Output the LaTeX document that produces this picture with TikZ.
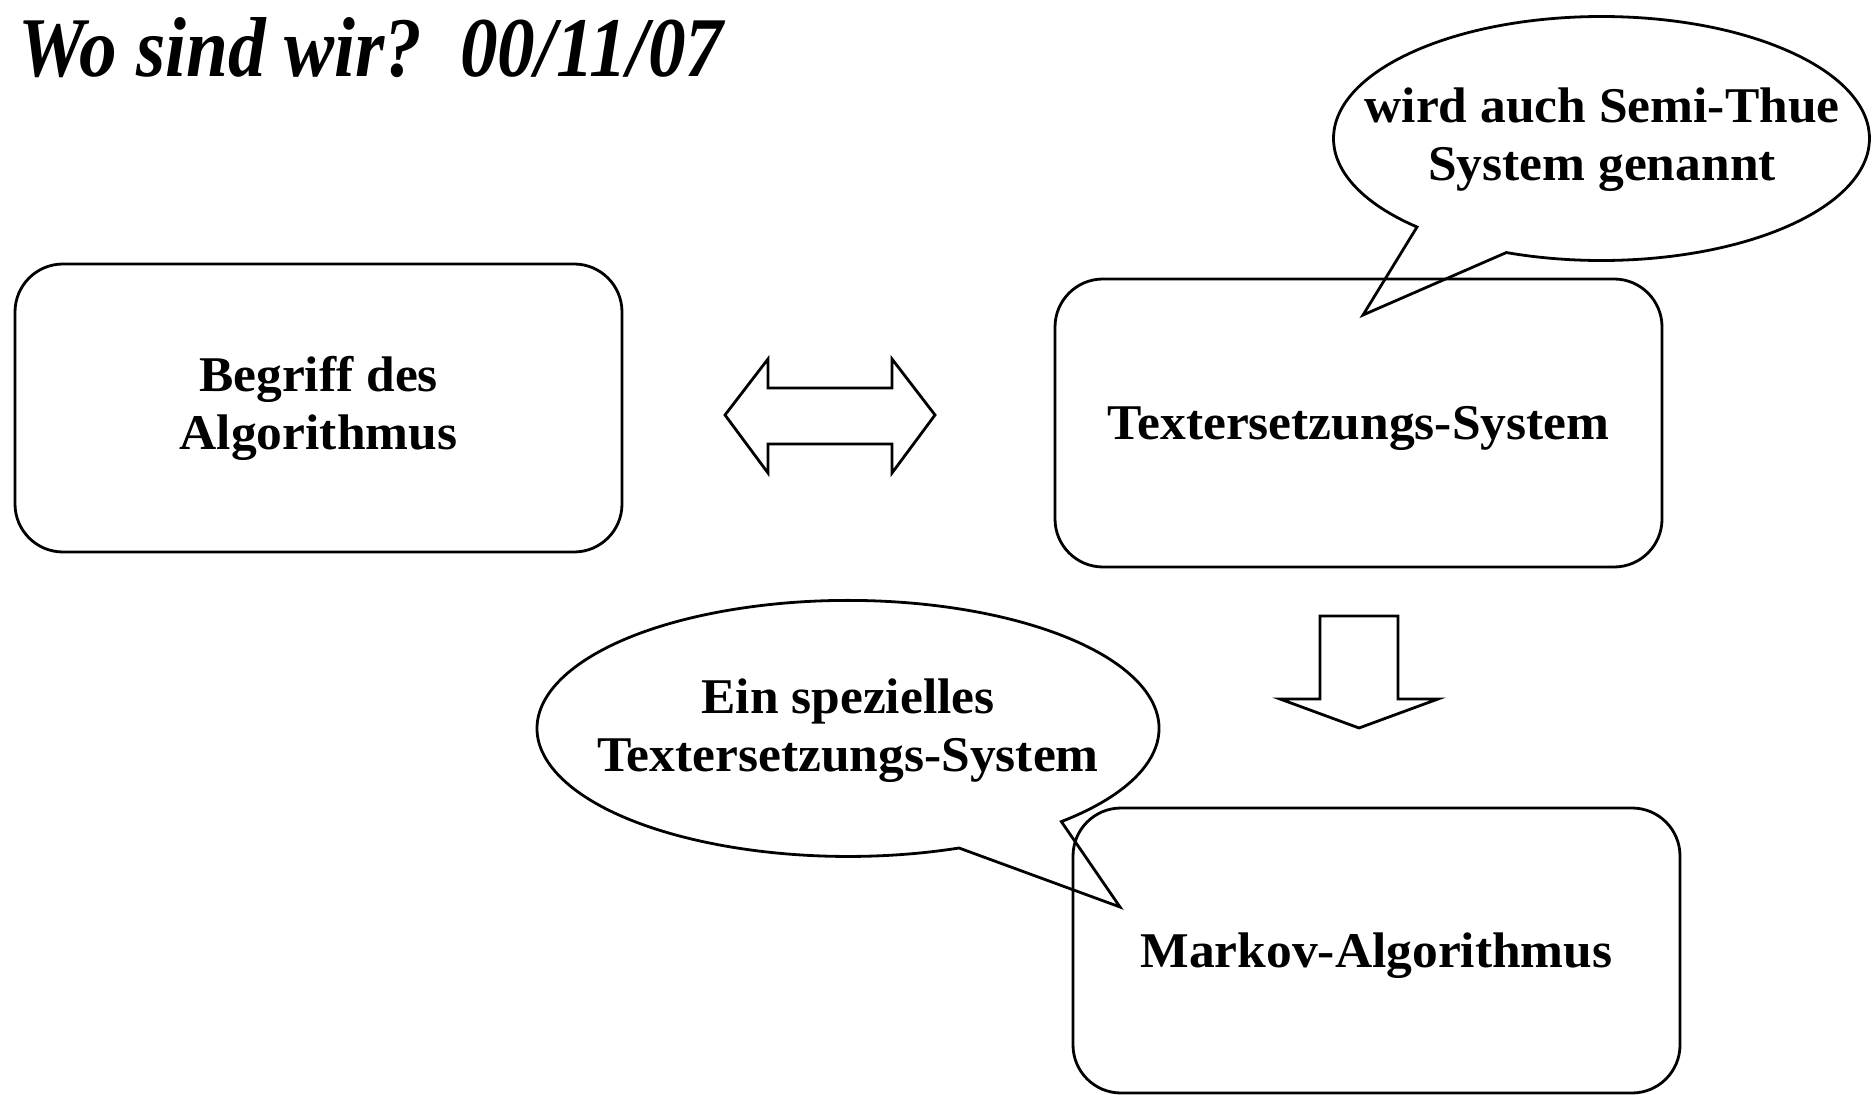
\documentclass[tikz,border=0pt]{standalone}
\usepackage{fontspec}
\setmainfont{Liberation Serif}
\newfontfamily\boxfontfam[FakeStretch=1.03]{Liberation Serif}
\newfontfamily\titlefontfam[FakeStretch=0.885]{Liberation Serif}
\newcommand\boxfont{\boxfontfam\bfseries\fontsize{25}{29}\selectfont}
\newcommand\titlefnt{\titlefontfam\bfseries\itshape\fontsize{42.5}{48}\selectfont}
\begin{document}
\begin{tikzpicture}[x=0.5pt,y=-0.5pt,
  outline/.style={draw, line width=1.4pt, line join=miter},
  box/.style={draw, line width=1.4pt, rounded corners=24pt, minimum width=303.5pt,
    minimum height=144pt, align=center, font=\boxfont, inner sep=0pt},
  label/.style={align=center, font=\boxfont, inner sep=0pt}]
\useasboundingbox (0,0) rectangle (1872,1095);

% title
\node[anchor=base west, inner sep=0pt, font=\titlefnt] (title) at (18,77) {Wo sind wir?\ \ 00/11/07};

% boxes
\node[box] (begriff) at (318.5,408) {Begriff des\\Algorithmus};
\node[box] (tss) at (1358.5,423) {};
\node[label] (tsstext) at ([yshift=-2.5pt]tss.center) {Textersetzungs-System};
\node[box, minimum height=142.5pt] (markov) at (1376.5,950.5) {};
\node[label] (markovtext) at ([yshift=-2.5pt]markov.center) {Markov-Algorithmus};

% double block arrow
\draw[outline] (725,415) -- (768,359) -- (768,388) -- (892,388) -- (892,359) -- (935,415)
  -- (892,473) -- (892,444) -- (768,444) -- (768,473) -- cycle;

% down block arrow
\draw[outline] (1320,616) -- (1398,616) -- (1398,699) -- (1438,699) -- (1359,728)
  -- (1280,699) -- (1320,699) -- cycle;

% callout 1
\draw[outline] (1417,227) arc[start angle=133.5, end angle=470.8, x radius=268, y radius=122]
  -- (1363,315) -- cycle;
\node[label] (semithue) at (1602,140) {wird auch Semi-Thue\\System genannt};

% callout 2
\draw[outline] (959,848) arc[start angle=69.1, end angle=406.7, x radius=311, y radius=128]
  -- (1120,907) -- cycle;
\node[label] (speziell) at (848,731) {Ein spezielles\\Textersetzungs-System};
\end{tikzpicture}
\end{document}
